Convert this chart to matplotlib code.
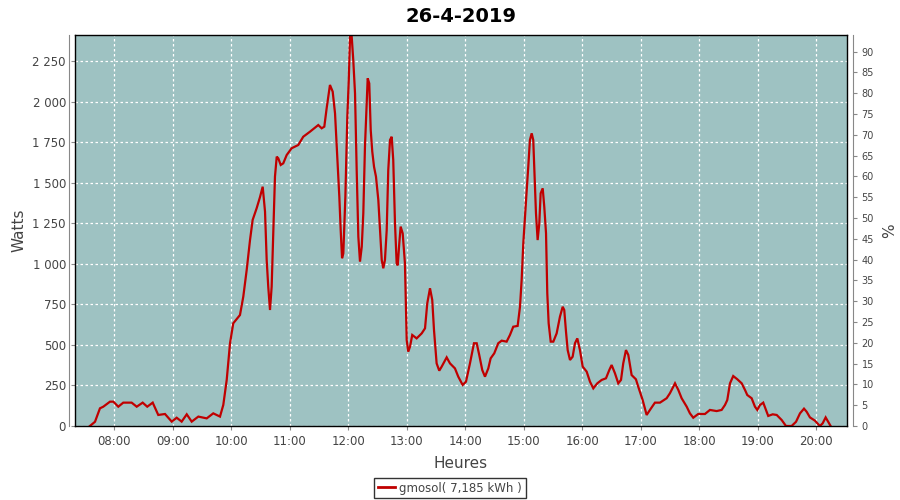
import matplotlib
matplotlib.use('Agg')
import matplotlib.pyplot as plt
from matplotlib.ticker import FuncFormatter, MultipleLocator
from matplotlib.lines import Line2D

# minutes since midnight, watts
minutes = [455, 460.2, 465.3, 468.7, 475.6, 479, 484.1, 489.2, 497.8, 503, 509.1, 513.8, 519.4,
           525.1, 532, 538.9, 544, 549.1, 554.3, 559.4, 566.2, 574.8, 581.5, 588.4, 591.8, 595.3,
           598.7, 602, 608.9, 612.3, 615.8, 619.2, 621.9, 626, 629.4, 632.2, 634.6, 636.3, 637.9,
           639.7, 641.4, 643.1, 644.8, 646.6, 648.2, 650.7, 653.3, 656.8, 661.9, 668.7, 673.8,
           680.7, 689.2, 692.7, 695.4, 697.8, 701.2, 704, 706.4, 708.1, 710.8, 712.2, 713.6, 714.9,
           717, 719, 720.5, 721.8, 723.5, 725.1, 726.9, 728.6, 730.3, 732, 733.8, 735.4, 737.1,
           738.9, 739.9, 741.5, 743, 744.6, 746.4, 748.4, 750.8, 752.5, 754.3, 755.9, 757.6, 759.4,
           761, 762.8, 764.5, 766.1, 767.9, 769.6, 770.7, 772.3, 773.7, 775.8, 778.1, 778.9, 779.9,
           781.5, 783.3, 785.6, 790.1, 795.3, 798.7, 801, 803.8, 806.1, 807.9, 810.6, 813.3, 815.8,
           820.9, 824.3, 829.4, 832.8, 837.3, 840.7, 844.8, 848.9, 851.7, 854.3, 857.4, 860.2,
           863.6, 866, 869.7, 873.8, 877.3, 882.4, 885.8, 889.2, 893.7, 896.1, 897.8, 899.5, 901.2,
           903, 904.6, 906.3, 908.1, 909.7, 910.8, 912.5, 914.2, 915.9, 917.3, 919.4, 921, 922.8,
           924.1, 925.5, 927.6, 930.3, 933.7, 937.1, 939.9, 941.5, 943.3, 945, 947.4, 950.1, 952.5,
           954.9, 957.6, 960.4, 964.5, 967.9, 971.3, 975.4, 979.9, 984.3, 987.7, 990.1, 993.5,
           996.9, 999.7, 1002, 1004.8, 1007.2, 1010.6, 1015, 1017.4, 1021.9, 1026, 1029.4, 1034.5,
           1039.7, 1046.5, 1049.9, 1055.1, 1058.5, 1061.9, 1067.1, 1070.4, 1073.8, 1078.9, 1085.8,
           1090.9, 1097.8, 1102.9, 1106.3, 1108.7, 1111.5, 1114.8, 1119, 1123.5, 1126.9, 1129.2,
           1133.7, 1137.1, 1139.5, 1142.2, 1145.6, 1148.4, 1150.7, 1155.3, 1159.4, 1164.5, 1168.9,
           1174.7, 1179.2, 1183.3, 1187.4, 1190.1, 1193.5, 1198.6, 1203.7, 1206.5, 1209.6, 1212.2,
           1214.7]
watts = [0, 26, 109, 119, 150, 150, 119, 144, 144, 119, 144, 119, 144,
         68, 74, 27, 51, 27, 72, 27, 58, 47, 78, 58, 130, 284,
         510, 633, 684, 797, 962, 1146, 1270, 1342, 1410, 1475, 1321, 1023, 859,
         715, 859, 1208, 1537, 1660, 1650, 1609, 1619, 1670, 1712, 1732, 1783,
         1814, 1855, 1835, 1845, 1958, 2102, 2061, 1927, 1732, 1413, 1208, 1034, 1064,
         1413, 1906, 2133, 2400, 2400, 2256, 2051, 1578, 1167, 1013, 1105, 1311, 1722,
         1989, 2143, 2112, 1825, 1691, 1598, 1537, 1393, 1208, 1023, 972, 1023, 1208,
         1578, 1763, 1783, 1640, 1249, 1003, 990, 1126, 1229, 1187, 1003, 797, 530,
         458, 489, 561, 540, 571, 602, 756, 849, 777, 592, 386, 341, 366,
         423, 386, 355, 304, 253, 273, 386, 510, 510, 438, 345, 304,
         355, 417, 448, 510, 526, 520, 561, 612, 617, 735, 900, 1126, 1290,
         1455, 1598, 1763, 1804, 1763, 1578, 1311, 1146, 1249, 1434, 1465, 1352, 1188,
         818, 633, 520, 520, 571, 674, 735, 715, 581, 468, 407, 427, 510,
         540, 468, 366, 335, 273, 232, 263, 284, 294, 345, 376, 325,
         263, 284, 386, 468, 438, 314, 288, 242, 160, 68, 99, 144,
         144, 171, 202, 263, 222, 171, 119, 78, 51, 74, 74,
         99, 92, 99, 129, 160, 263, 308, 288, 263, 222, 191,
         171, 119, 99, 129, 144, 99, 62, 72, 68, 37, 0,
         0, 26, 78, 107, 88, 53, 33, 0, 16, 53, 26,
         0]
hours = list(range(8, 21))
title = '26-4-2019'
series_label = 'gmosol( 7,185 kWh )'

fig = plt.figure(figsize=(9, 5), dpi=100)
ax = fig.add_axes([75/900, 74/500, 772/900, 391/500])
ax.set_facecolor('#9ec2c2')
ax.plot(minutes, watts, color='#c00000', lw=1.6, solid_joinstyle='miter')
ax.set_xlim(439.7, 1231.5)
ax.set_ylim(0, 2410)
ax.set_xticks([h*60 for h in hours])
ax.set_xticklabels([f'{h:02d}:00' for h in hours])
ax.yaxis.set_major_locator(MultipleLocator(250))
ax.yaxis.set_major_formatter(FuncFormatter(lambda v, p: f'{int(v):,}'.replace(',', ' ')))
ax.grid(True, color='white', ls=(0, (2, 2)), lw=0.9)
for s in ax.spines.values():
    s.set_color('black')
    s.set_linewidth(1)
ax.tick_params(axis='both', colors='#888888', labelcolor='#444444', labelsize=8.5, length=3)
ax.set_ylabel('Watts', fontsize=11, color='#444444')
ax.set_xlabel('Heures', fontsize=11, color='#444444', labelpad=6)
ax.set_title(title, fontsize=14, fontweight='bold', pad=9)

# left axis line offset from plot border, like the original
ax_l = ax.twinx()
ax_l.set_ylim(0, 2410)
ax_l.yaxis.set_visible(False)
for k in ('top', 'bottom', 'right'):
    ax_l.spines[k].set_visible(False)
ax_l.spines['left'].set_position(('outward', 4))
ax_l.spines['left'].set_color('#888888')

ax2 = ax.twinx()
ax2.set_ylim(0, 94)
ax2.yaxis.set_major_locator(MultipleLocator(5))
for k in ('top', 'bottom', 'left'):
    ax2.spines[k].set_visible(False)
ax2.spines['right'].set_position(('outward', 4))
ax2.spines['right'].set_color('#888888')
ax2.tick_params(axis='y', colors='#888888', labelcolor='#444444', labelsize=7, length=3)
ax2.set_ylabel('%', fontsize=11, color='#444444', labelpad=6)

handle = Line2D([], [], color='#c00000', lw=2)
fig.legend([handle], [series_label], loc='lower center', bbox_to_anchor=(0.5, -0.008),
           frameon=True, fancybox=False, edgecolor='black', fontsize=8.5,
           handlelength=1.4, handletextpad=0.4, borderpad=0.3, labelcolor='#444444')

fig.savefig('out.png', dpi=100)
